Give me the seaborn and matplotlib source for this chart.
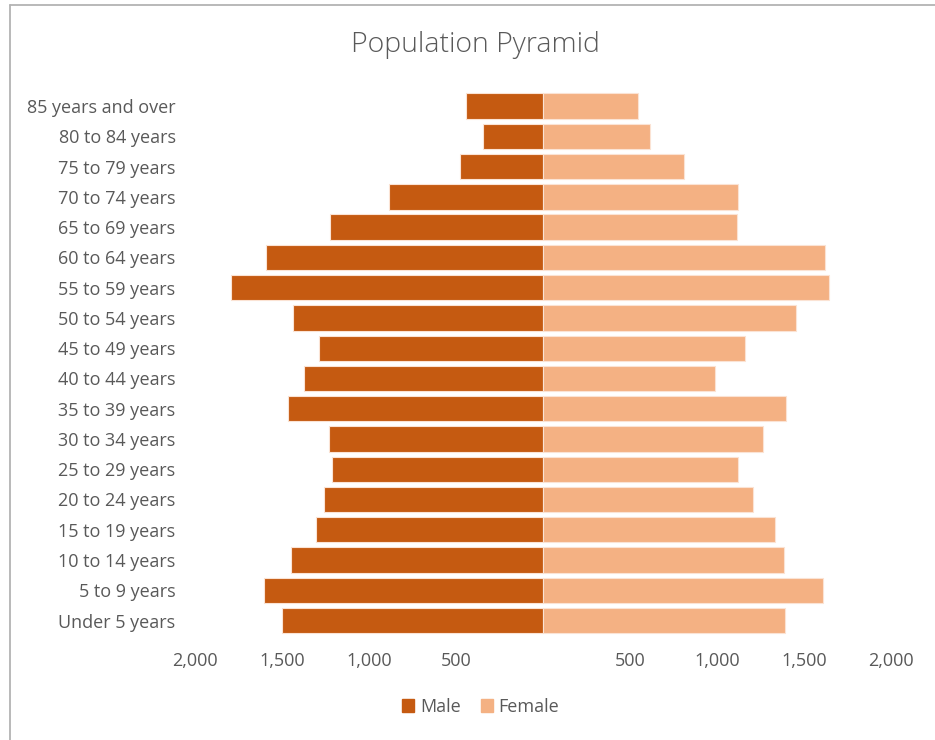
import matplotlib
matplotlib.use("Agg")
import matplotlib.pyplot as plt
from matplotlib.patches import Rectangle
from matplotlib.ticker import FixedLocator, FuncFormatter
import seaborn as sns
import pandas as pd

age_groups = [
    "85 years and over", "80 to 84 years", "75 to 79 years", "70 to 74 years",
    "65 to 69 years", "60 to 64 years", "55 to 59 years", "50 to 54 years",
    "45 to 49 years", "40 to 44 years", "35 to 39 years", "30 to 34 years",
    "25 to 29 years", "20 to 24 years", "15 to 19 years", "10 to 14 years",
    "5 to 9 years", "Under 5 years",
]
male = [440, 345, 480, 883, 1224, 1592, 1794, 1437, 1289, 1373,
        1463, 1230, 1214, 1258, 1307, 1451, 1605, 1499]
female = [548, 617, 810, 1120, 1113, 1621, 1641, 1454, 1159, 990,
          1395, 1262, 1118, 1207, 1331, 1385, 1608, 1390]
x_ticks = [-2000, -1500, -1000, -500, 500, 1000, 1500, 2000]

MALE_COLOR = "#C55A11"
FEMALE_COLOR = "#F4B183"
TEXT_COLOR = "#595959"

sns.set_theme(style="white")
plt.rcParams["font.family"] = ["Open Sans", "DejaVu Sans"]

df = pd.DataFrame({
    "age": age_groups * 2,
    "value": [-m for m in male] + female,
    "sex": ["Male"] * len(age_groups) + ["Female"] * len(age_groups),
})

fig = plt.figure(figsize=(9.35, 7.4), dpi=100)
ax = fig.add_axes([0.2086, 0.141, 0.7444, 0.736])

sns.barplot(
    data=df, x="value", y="age", hue="sex", order=age_groups,
    hue_order=["Male", "Female"], palette=[MALE_COLOR, FEMALE_COLOR],
    saturation=1, dodge=False, width=0.84, orient="h", ax=ax, legend=False,
    edgecolor="#fbe3d4", linewidth=0.8,
)

ax.set_xlim(-2000, 2000)
ax.set_ylim(len(age_groups) - 0.5, -0.5)
ax.xaxis.set_major_locator(FixedLocator(x_ticks))
ax.xaxis.set_major_formatter(FuncFormatter(lambda v, _: f"{abs(int(v)):,}"))
ax.set_xlabel("")
ax.set_ylabel("")
for s in ax.spines.values():
    s.set_visible(False)
ax.tick_params(axis="x", length=0, pad=12, labelsize=13, labelcolor=TEXT_COLOR)
ax.tick_params(axis="y", length=0, pad=14, labelsize=13, labelcolor=TEXT_COLOR)

fig.text(0.508, 0.939, "Population Pyramid",
         ha="center", va="center", fontsize=20.5, color=TEXT_COLOR,
         fontweight="light")

handles = [Rectangle((0, 0), 1, 1, color=MALE_COLOR),
           Rectangle((0, 0), 1, 1, color=FEMALE_COLOR)]
fig.legend(handles, ["Male", "Female"], loc="center", bbox_to_anchor=(0.514, 0.045),
           ncol=2, frameon=False, handlelength=0.7, handleheight=0.7,
           handletextpad=0.3, columnspacing=1.1, labelcolor=TEXT_COLOR,
           prop={"size": 13})

# Chart frame: top and left edges
fig.add_artist(plt.Line2D([0.0102, 1.0], [0.9935, 0.9935], color="#b3b3b3",
                          linewidth=1.3, transform=fig.transFigure))
fig.add_artist(plt.Line2D([0.0102, 0.0102], [0.0, 0.9935], color="#b3b3b3",
                          linewidth=1.3, transform=fig.transFigure))

fig.savefig("out.png", dpi=100, facecolor="white")
